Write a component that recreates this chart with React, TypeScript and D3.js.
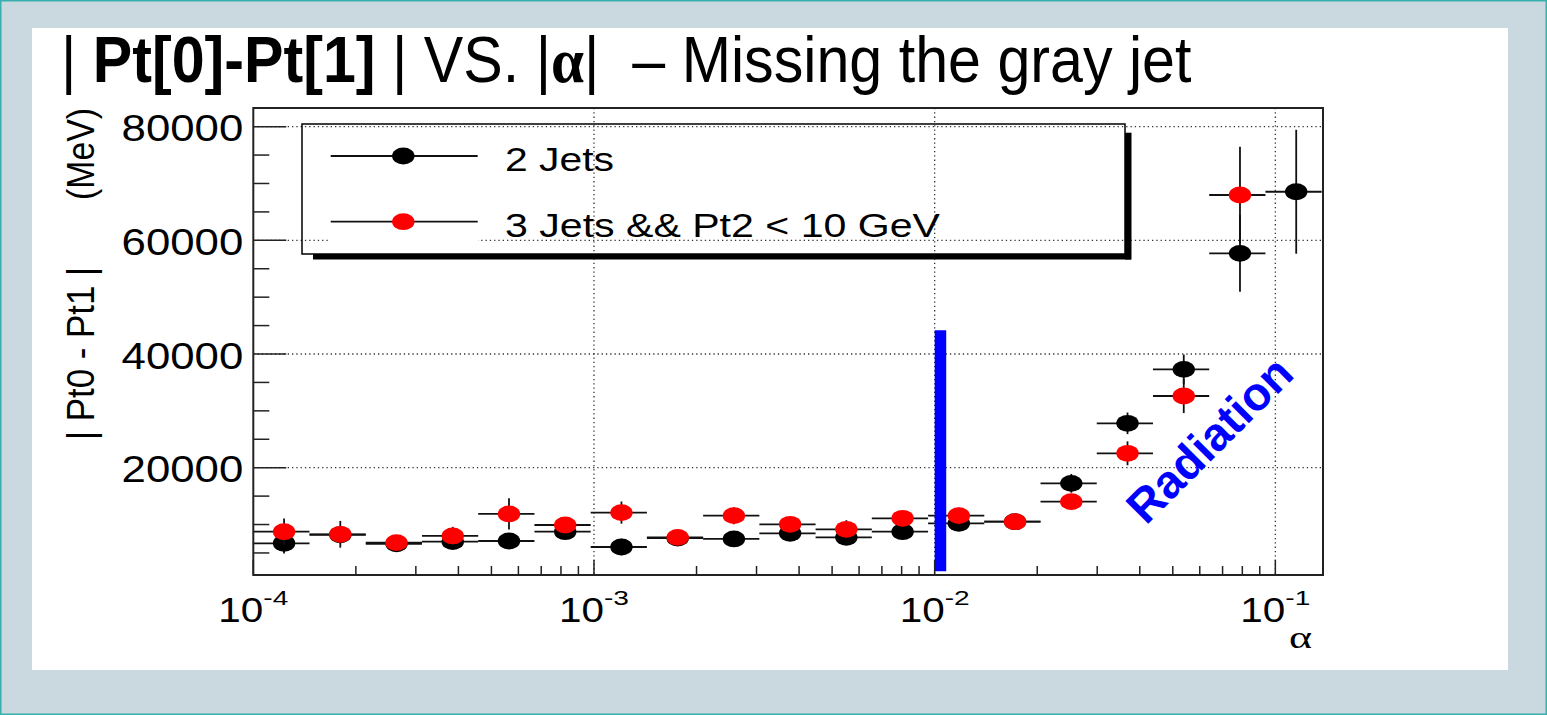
import React from 'react';
import * as d3 from 'd3';

const W = 1547;
const H = 715;

// Profile binning: 20 log-spaced bins in alpha between 1e-4 and 0.2
const BIN_LO = 1e-4;
const BIN_HI = 0.2;
const N_BINS = 20;

// Mean |Pt0 - Pt1| (MeV) per alpha bin
const twoJets = [6700, 8200, 6600, 6990, 7100, 8740, 6050, 7600, 7460, 8460, 7750, 8740, 10220, 10500, 17250, 27810, 37300, 57710, 68550];
const twoJetsErr = [1800, 1500, 1000, 1000, 1200, 1000, 1450, 1000, 1000, 1000, 1000, 1000, 1000, 800, 1650, 1900, 2600, 6750, 10900];
const threeJets = [8740, 8280, 6810, 7990, 11860, 9920, 12100, 7750, 11560, 10040, 9160, 11100, 11560, 10500, 14020, 22530, 32610, 67970];
const threeJetsErr = [2300, 2350, 1000, 1600, 2750, 1000, 1950, 1000, 1500, 1000, 1600, 1000, 1400, 800, 1000, 2100, 3000, 8500];

const seriesNames = ['2 Jets', '3 Jets && Pt2 < 10 GeV'];
const seriesColors = ['#000000', '#ff0000'];

const yMajorTicks = [20000, 40000, 60000, 80000];
const yMinorStep = 5000;
const xDecades = [1e-4, 1e-3, 1e-2, 1e-1];
const xDecadeExp = ['-4', '-3', '-2', '-1'];

// Cut marker drawn at alpha = 0.0104
const cutAlpha = 0.0104;
const cutRange = [1800, 44200];

const FONT = '"Liberation Sans", Arial, Helvetica, sans-serif';
const SERIF = '"Liberation Serif", serif';

const plot = { left: 253.3, right: 1323, top: 108, bottom: 575 };

const x = d3.scaleLog().domain([1e-4, 0.138]).range([plot.left, plot.right]);
const y = d3.scaleLinear().domain([1121, 83280]).range([plot.bottom, plot.top]);

const binEdge = (i: number) => BIN_LO * Math.pow(BIN_HI / BIN_LO, i / N_BINS);

type Pt = { lo: number; hi: number; c: number; v: number; e: number };
const toPoints = (vals: number[], errs: number[]): Pt[] =>
  vals.map((v, i) => {
    const lo = binEdge(i);
    const hi = binEdge(i + 1);
    return { lo, hi, c: (lo + hi) / 2, v, e: errs[i] };
  });

const series = [toPoints(twoJets, twoJetsErr), toPoints(threeJets, threeJetsErr)];

const RX = 11.2;
const RY = 8.4;

function Series({ pts, color }: { pts: Pt[]; color: string }) {
  return (
    <g>
      {pts.map((p, i) => (
        <g key={i}>
          <line x1={x(p.lo)} x2={Math.min(x(p.hi), plot.right)} y1={y(p.v)} y2={y(p.v)} stroke="#111" strokeWidth={1.8} />
          <line x1={x(p.c)} x2={x(p.c)} y1={y(p.v - p.e)} y2={Math.max(y(p.v + p.e), plot.top)} stroke="#111" strokeWidth={1.8} />
          <ellipse cx={x(p.c)} cy={y(p.v)} rx={RX} ry={RY} fill={color} />
        </g>
      ))}
    </g>
  );
}

export default function App() {
  const yMinor = d3.range(yMinorStep, 83000, yMinorStep);
  const xMinor: number[] = [];
  for (let k = -4; k <= -1; k++) {
    for (let m = 2; m <= 9; m++) {
      const v = m * Math.pow(10, k);
      if (v < 0.138) xMinor.push(v);
    }
  }
  const dotted = { stroke: '#333', strokeWidth: 1.3, strokeDasharray: '1.3 3' };

  return (
    <svg width={W} height={H} style={{ position: 'absolute', left: 0, top: 0 }} fontFamily={FONT}>
      <rect x={0.75} y={0.75} width={W - 1.5} height={H - 1.5} fill="#c9d9df" stroke="#3ab0ae" strokeWidth={1.5} />
      <rect x={32} y={28} width={1476} height={642} fill="#ffffff" />

      {/* title */}
      <text transform="translate(61,81.7) scale(0.925,1)" fontSize={64} fill="#000" style={{ whiteSpace: 'pre' }}>
        <tspan>| </tspan>
        <tspan fontWeight="bold">Pt[0]-Pt[1]</tspan>
        <tspan> | VS. |</tspan>
        <tspan fontWeight="bold" fontFamily={SERIF}>α</tspan>
        <tspan>|  – Missing the gray jet</tspan>
      </text>

      {/* grid */}
      {yMajorTicks.map((t) => (
        <line key={'gy' + t} x1={plot.left} x2={plot.right} y1={y(t)} y2={y(t)} {...dotted} />
      ))}
      {xDecades.slice(1).map((t) => (
        <line key={'gx' + t} x1={x(t)} x2={x(t)} y1={plot.top} y2={plot.bottom} {...dotted} />
      ))}

      {/* legend */}
      <rect x={313} y={254} width={818} height={5.5} fill="#000" />
      <rect x={1125} y={132.7} width={6.5} height={126.8} fill="#000" />
      <rect x={328} y={190} width={150} height={63} fill="#fff" />
      <rect x={302} y={124} width={823} height={130} fill="none" stroke="#000" strokeWidth={1.5} />
      {seriesNames.map((name, i) => {
        const ly = 156 + i * 65.7;
        return (
          <g key={name}>
            <line x1={330.7} x2={477.7} y1={ly} y2={ly} stroke="#111" strokeWidth={1.8} />
            <ellipse cx={403.3} cy={ly} rx={RX} ry={RY} fill={seriesColors[i]} />
            <text x={505} y={ly + 15} fontSize={33} textLength={i === 0 ? 109 : 435} lengthAdjust="spacingAndGlyphs" fill="#000">
              {name}
            </text>
          </g>
        );
      })}

      {/* data */}
      {series.map((pts, i) => (
        <Series key={i} pts={pts} color={seriesColors[i]} />
      ))}

      {/* cut line */}
      <line x1={x(cutAlpha)} x2={x(cutAlpha)} y1={y(cutRange[0])} y2={y(cutRange[1])} stroke="#0000ff" strokeWidth={11.5} />

      {/* annotation */}
      <text
        transform="translate(1146,526) rotate(-45)"
        fontSize={47}
        fontWeight="bold"
        fill="#0000ff"
        textLength={212}
        lengthAdjust="spacingAndGlyphs"
      >
        Radiation
      </text>

      {/* frame */}
      <rect x={plot.left} y={plot.top} width={plot.right - plot.left} height={plot.bottom - plot.top} fill="none" stroke="#222" strokeWidth={2} />

      {/* y ticks */}
      {yMinor.map((t) => {
        const major = t % 20000 === 0;
        return (
          <line key={'yt' + t} x1={plot.left} x2={plot.left + (major ? 33 : 16)} y1={y(t)} y2={y(t)} stroke="#222" strokeWidth={1.5} />
        );
      })}
      {yMajorTicks.map((t) => (
        <text key={'yl' + t} x={243.3} y={y(t) + 14.5} fontSize={36} textAnchor="end" textLength={121.7} lengthAdjust="spacingAndGlyphs" fill="#000">
          {String(t)}
        </text>
      ))}

      {/* x ticks */}
      {xMinor.map((t) => (
        <line key={'xt' + t} x1={x(t)} x2={x(t)} y1={plot.bottom} y2={plot.bottom - 9} stroke="#222" strokeWidth={1.5} />
      ))}
      {xDecades.map((t) => (
        <line key={'xm' + t} x1={x(t)} x2={x(t)} y1={plot.bottom} y2={plot.bottom - 15} stroke="#222" strokeWidth={1.5} />
      ))}
      {xDecades.map((t, i) => (
        <g key={'xl' + t}>
          <text x={x(t) - 35} y={621.7} fontSize={35} textLength={45} lengthAdjust="spacingAndGlyphs" fill="#000">
            10
          </text>
          <text x={x(t) + 10} y={605} fontSize={21} textLength={25} lengthAdjust="spacingAndGlyphs" fill="#000">
            {xDecadeExp[i]}
          </text>
        </g>
      ))}

      {/* axis titles */}
      <text x={1312} y={648} fontSize={32} textAnchor="end" textLength={23} lengthAdjust="spacingAndGlyphs" fontFamily={SERIF} fill="#000">
        α
      </text>
      <g transform="translate(94,440) scale(1.13,1) rotate(-90)">
        <text x={0} y={0} fontSize={35} textLength={173} lengthAdjust="spacingAndGlyphs" fill="#000">
          | Pt0 - Pt1 |
        </text>
      </g>
      <g transform="translate(94,200) scale(1.13,1) rotate(-90)">
        <text x={0} y={0} fontSize={35} textLength={92} lengthAdjust="spacingAndGlyphs" fill="#000">
          (MeV)
        </text>
      </g>
    </svg>
  );
}
